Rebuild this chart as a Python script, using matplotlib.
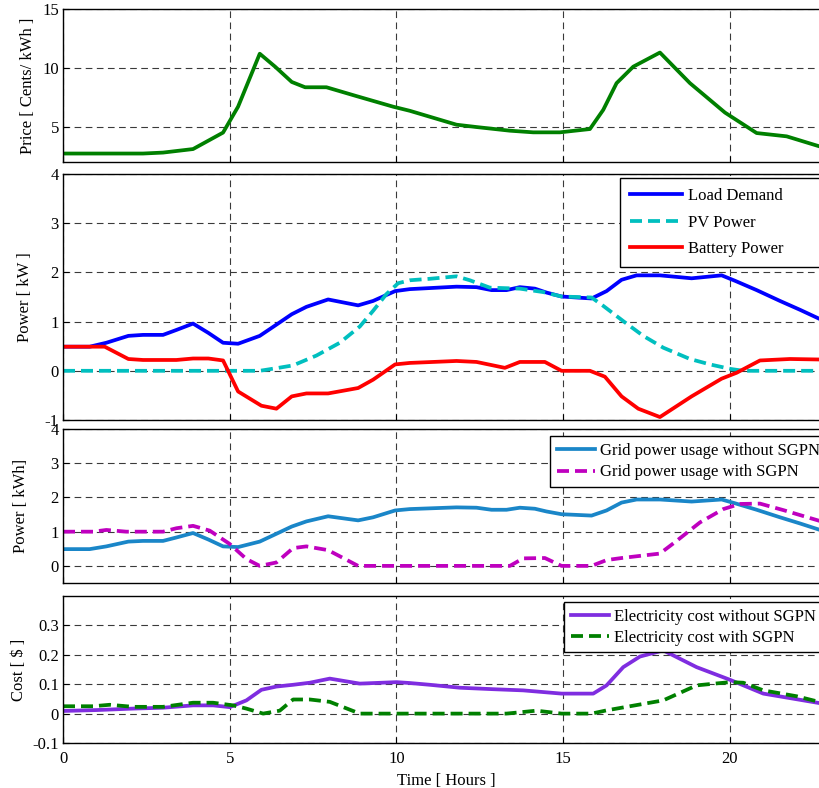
import matplotlib
matplotlib.use("Agg")
import matplotlib.pyplot as plt

plt.rcParams["font.family"] = ["Liberation Serif", "DejaVu Serif"]
plt.rcParams["font.size"] = 12
plt.rcParams["axes.unicode_minus"] = False

# ---- data (hours) ----
price_t = [0, 2.4, 3.0, 3.9, 4.8, 5.25, 5.9, 6.36, 6.86, 7.26, 7.9, 8.8, 9.9, 10.4,
           11.8, 12.4, 13.4, 14.1, 14.9, 15.8, 16.2, 16.6, 17.1, 17.9, 18.8, 19.85,
           20.15, 20.8, 21.7, 22.67, 23]
price = [2.72, 2.72, 2.8, 3.1, 4.5, 6.7, 11.2, 10.1, 8.8, 8.35, 8.35, 7.6, 6.7, 6.35,
         5.17, 4.97, 4.66, 4.52, 4.52, 4.8, 6.43, 8.7, 10.1, 11.3, 8.7, 6.2,
         5.65, 4.46, 4.18, 3.34, 3.1]

load_t = [0, 0.8, 1.3, 1.96, 2.4, 3.0, 3.4, 3.9, 4.36, 4.8, 5.25, 5.9, 6.36, 6.86,
          7.3, 7.95, 8.85, 9.3, 9.96, 10.4, 11.8, 12.4, 12.85, 13.3, 13.7, 14.15,
          14.5, 14.95, 15.85, 16.3, 16.75, 17.2, 17.9, 18.85, 19.75, 20.15, 20.8,
          21.5, 22.1, 22.67, 23]
load_kw = [0.49, 0.49, 0.57, 0.71, 0.73, 0.73, 0.83, 0.96, 0.77, 0.57, 0.55, 0.71,
           0.92, 1.15, 1.30, 1.45, 1.33, 1.42, 1.62, 1.66, 1.71, 1.70, 1.64, 1.64,
           1.70, 1.67, 1.59, 1.51, 1.47, 1.62, 1.85, 1.94, 1.94, 1.88, 1.94, 1.83,
           1.64, 1.42, 1.24, 1.06, 0.98]

pv_t = [0, 5.9, 6.46, 6.9, 7.6, 8.3, 8.9, 9.3, 9.7, 10.05, 10.4, 11.0, 11.8, 12.2,
        12.8, 13.7, 14.4, 14.95, 15.85, 16.2, 16.8, 17.4, 18.0, 18.8, 19.4, 20.0,
        20.4, 23]
pv_kw = [0, 0, 0.06, 0.11, 0.31, 0.57, 0.90, 1.22, 1.56, 1.78, 1.84, 1.87, 1.92, 1.84,
         1.69, 1.67, 1.60, 1.51, 1.49, 1.32, 1.01, 0.71, 0.47, 0.24, 0.13, 0.04,
         0, 0]

batt_t = [0, 1.25, 1.96, 2.4, 3.4, 3.9, 4.36, 4.8, 5.25, 5.95, 6.4, 6.86, 7.3, 7.95,
          8.85, 9.3, 9.96, 10.4, 11.8, 12.4, 13.25, 13.7, 14.45, 14.95, 15.8, 16.25,
          16.75, 17.25, 17.9, 18.85, 19.75, 20.2, 20.9, 21.8, 22.67, 23]
batt_kw = [0.49, 0.49, 0.24, 0.22, 0.22, 0.25, 0.25, 0.21, -0.42, -0.71, -0.77, -0.52,
           -0.46, -0.46, -0.35, -0.18, 0.13, 0.16, 0.20, 0.18, 0.06, 0.18, 0.18, 0.0,
           0.0, -0.12, -0.52, -0.77, -0.94, -0.52, -0.16, -0.04, 0.21, 0.24, 0.23, 0.23]

# grid usage without SGPN follows the load demand curve
grid_wo_t = load_t
grid_wo = load_kw

grid_w_t = [0, 0.9, 1.3, 1.9, 3.0, 3.4, 3.9, 4.4, 5.0, 5.5, 5.9, 6.4, 6.9, 7.3, 7.95,
            8.85, 13.4, 13.8, 14.45, 14.95, 15.85, 16.3, 16.75, 17.9, 18.4, 19.1,
            19.8, 20.3, 20.9, 21.6, 22.67, 23]
grid_w = [1.0, 1.0, 1.05, 1.0, 1.0, 1.1, 1.17, 1.03, 0.64, 0.2, 0.0, 0.1, 0.52, 0.57,
          0.46, 0.0, 0.0, 0.22, 0.23, 0.0, 0.0, 0.17, 0.23, 0.36, 0.73, 1.27,
          1.66, 1.81, 1.82, 1.63, 1.32, 1.22]

cost_wo_t = [0, 1, 2.1, 3.0, 3.9, 4.5, 5.0, 5.5, 5.95, 6.4, 6.9, 7.4, 8.0, 8.9, 10.0,
             10.4, 11.0, 11.9, 12.9, 13.8, 14.95, 15.9, 16.3, 16.8, 17.3, 18.0, 19.0,
             20.0, 21.0, 22.67, 23]
cost_wo = [0.009, 0.012, 0.017, 0.02, 0.028, 0.028, 0.022, 0.045, 0.081, 0.092, 0.098,
           0.105, 0.119, 0.102, 0.107, 0.104, 0.098, 0.088, 0.083, 0.079, 0.068, 0.068,
           0.096, 0.158, 0.194, 0.215, 0.158, 0.115, 0.068, 0.036, 0.03]

cost_w_t = [0, 0.9, 1.4, 2.1, 3.0, 3.9, 4.5, 5.1, 5.5, 6.0, 6.5, 6.9, 7.4, 8.0, 8.9,
            13.3, 14.2, 14.95, 15.85, 16.3, 17.0, 18.0, 19.0, 20.0, 20.4, 21.0, 22.0,
            22.67, 23]
cost_w = [0.025, 0.025, 0.03, 0.023, 0.023, 0.037, 0.037, 0.028, 0.017, 0.0, 0.01,
          0.048, 0.048, 0.04, 0.0, 0.0, 0.01, 0.0, 0.0, 0.011, 0.025, 0.045, 0.096,
          0.107, 0.105, 0.079, 0.059, 0.04, 0.035]

xticks = [0, 5, 10, 15, 20]

# ---- layout (pixel boxes of the reference, 819x788) ----
W, H = 819, 788
def box(top, bottom, left=63, right=830):
    return [left / W, 1 - bottom / H, (right - left) / W, (bottom - top) / H]

fig = plt.figure(figsize=(W / 100, H / 100), dpi=100)
ax1 = fig.add_axes(box(9, 162))
ax2 = fig.add_axes(box(174, 420))
ax3 = fig.add_axes(box(429, 583))
ax4 = fig.add_axes(box(596, 743))

LW = 2.7
DASH = (0, (3.2, 1.6))

ax1.plot(price_t, price, color="#008000", lw=LW)
ax1.set_ylim(2, 15); ax1.set_yticks([5, 10, 15])
ax1.set_ylabel("Price [ Cents/ kWh ]")

ax2.plot(load_t, load_kw, color="#0000ff", lw=LW, label="Load Demand")
ax2.plot(pv_t, pv_kw, color="#00bfbf", lw=LW, ls=DASH, label="PV Power")
ax2.plot(batt_t, batt_kw, color="#ff0000", lw=LW, label="Battery Power")
ax2.set_ylim(-1, 4); ax2.set_yticks([-1, 0, 1, 2, 3, 4])
ax2.set_ylabel("Power [ kW ]")

ax3.plot(grid_wo_t, grid_wo, color="#1a86c8", lw=LW, label="Grid power usage without SGPN")
ax3.plot(grid_w_t, grid_w, color="#bf00bf", lw=LW, ls=DASH, label="Grid power usage with SGPN")
ax3.set_ylim(-0.5, 4); ax3.set_yticks([0, 1, 2, 3, 4])
ax3.set_ylabel("Power [ kWh]")

ax4.plot(cost_wo_t, cost_wo, color="#7f2de0", lw=LW, label="Electricity cost without SGPN")
ax4.plot(cost_w_t, cost_w, color="#008000", lw=LW, ls=DASH, label="Electricity cost with SGPN")
ax4.set_ylim(-0.1, 0.4); ax4.set_yticks([-0.1, 0, 0.1, 0.2, 0.3])
ax4.set_yticklabels(["-0.1", "0", "0.1", "0.2", "0.3"])
ax4.set_ylabel("Cost [ $ ]")
ax4.set_xlabel("Time [ Hours ]", labelpad=4)

label_x = [-0.035, -0.039, -0.044, -0.047]
for ax, lx in zip([ax1, ax2, ax3, ax4], label_x):
    ax.set_xlim(0, 23)
    ax.set_xticks(xticks)
    ax.grid(True, color="#3a3a3a", lw=0.8, ls=(0, (6, 4)))
    ax.tick_params(direction="in", length=4, width=0.8, labelsize=12, pad=3)
    ax.tick_params(axis="x", pad=6)
    ax.yaxis.set_label_coords(lx, 0.5)
    for s in ax.spines.values():
        s.set_linewidth(1.0)
for ax in [ax1, ax2, ax3]:
    ax.tick_params(labelbottom=False)

leg_kw = dict(loc="upper left", mode="expand", fontsize=12, borderaxespad=0,
              fancybox=False, framealpha=1, edgecolor="black")
# legend boxes anchored at their reference positions (axes fractions)
lg = ax2.legend(bbox_to_anchor=(0.726, 0.984, 0.27, 0.0), labelspacing=0.62,
                borderpad=0.62, handlelength=3.1, handletextpad=0.35, **leg_kw)
lg.get_frame().set_linewidth(1.0)
lg = ax3.legend(bbox_to_anchor=(0.635, 0.955, 0.36, 0.0), labelspacing=0.35,
                borderpad=0.4, handlelength=2.3, handletextpad=0.3, **leg_kw)
lg.get_frame().set_linewidth(1.0)
lg = ax4.legend(bbox_to_anchor=(0.653, 0.96, 0.34, 0.0), labelspacing=0.3,
                borderpad=0.4, handlelength=2.3, handletextpad=0.3, **leg_kw)
lg.get_frame().set_linewidth(1.0)

fig.savefig("out.png", dpi=100)
